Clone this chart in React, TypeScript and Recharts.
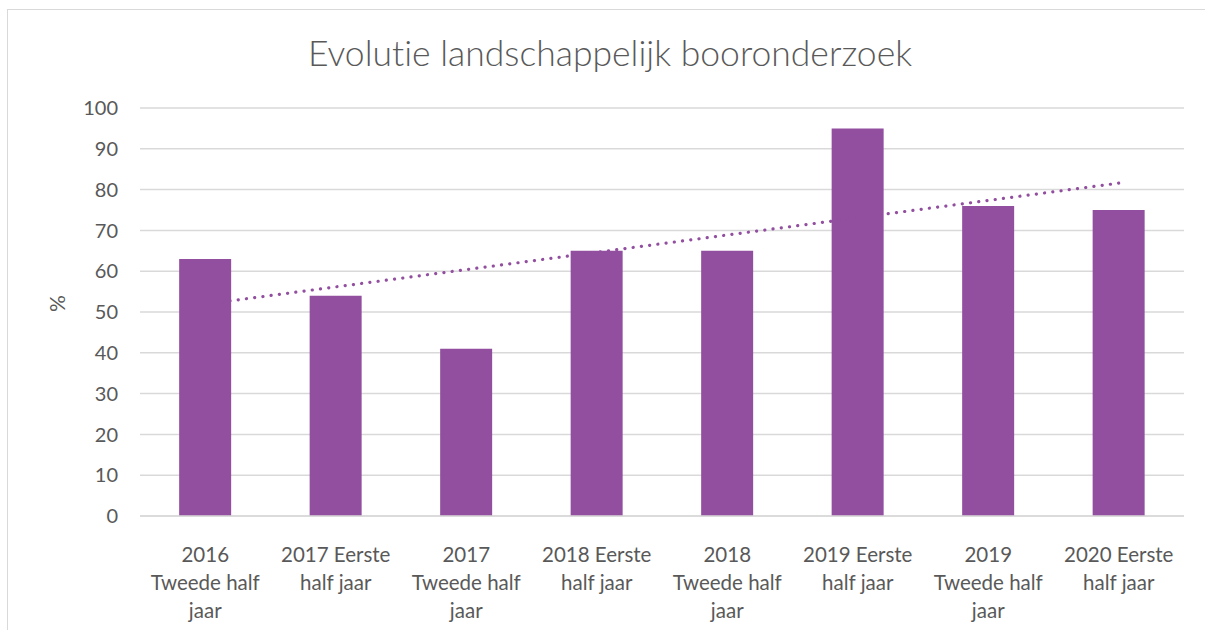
import { ComposedChart, Bar, Line, XAxis, YAxis, CartesianGrid } from "recharts";

const categories = [
  "2016\nTweede half\njaar",
  "2017 Eerste\nhalf jaar",
  "2017\nTweede half\njaar",
  "2018 Eerste\nhalf jaar",
  "2018\nTweede half\njaar",
  "2019 Eerste\nhalf jaar",
  "2019\nTweede half\njaar",
  "2020 Eerste\nhalf jaar",
];
const values = [63, 54, 41, 65, 65, 95, 76, 75];
const yTicks = [0, 10, 20, 30, 40, 50, 60, 70, 80, 90, 100];

const PURPLE = "#924F9F";
const GREY = "#595959";
const FONT = "Lato, 'Open Sans', sans-serif";

// linear trendline (least squares), like Excel's
const n = values.length;
const meanX = (n + 1) / 2;
const meanY = values.reduce((a, b) => a + b, 0) / n;
let sxy = 0;
let sxx = 0;
values.forEach((v, i) => {
  sxy += (i + 1 - meanX) * (v - meanY);
  sxx += (i + 1 - meanX) ** 2;
});
const slope = sxy / sxx;

const data = categories.map((c, i) => ({
  name: c,
  value: values[i],
  trend: meanY + slope * (i + 1 - meanX),
}));

function CategoryTick({ x, y, payload }: any) {
  const lines = String(payload.value).split("\n");
  return (
    <text x={x} y={y} textAnchor="middle" fill={GREY} fontSize={20.5} fontFamily={FONT}>
      {lines.map((l, i) => (
        <tspan key={i} x={x} dy={i === 0 ? 38 : 28}>
          {l}
        </tspan>
      ))}
    </text>
  );
}

export default function App() {
  return (
    <div style={{ position: "absolute", left: 0, top: 0, width: 1205, height: 630, overflow: "hidden", background: "#fff" }}>
      <div
        style={{
          position: "absolute",
          left: 7,
          top: 9,
          width: 1300,
          height: 700,
          border: "1px solid #D9D9D9",
        }}
      />
      <div
        style={{
          position: "absolute",
          left: 0,
          top: 31,
          width: 1220,
          textAlign: "center",
          fontFamily: FONT,
          fontSize: 35.5,
          fontWeight: 300,
          fontVariantLigatures: "none",
          color: GREY,
        }}
      >
        Evolutie landschappelijk booronderzoek
      </div>
      <div style={{ position: "absolute", left: 0, top: 0 }}>
        <ComposedChart
          width={1205}
          height={630}
          data={data}
          margin={{ top: 108, right: 21, bottom: 0, left: 50 }}
          barCategoryGap="30%"
        >
          <CartesianGrid vertical={false} stroke="#D9D9D9" strokeWidth={1.5} />
          <XAxis
            dataKey="name"
            height={114}
            axisLine={{ stroke: "#D9D9D9", strokeWidth: 1.5 }}
            tickLine={false}
            interval={0}
            tick={<CategoryTick />}
          />
          <YAxis
            width={90}
            domain={[0, 100]}
            ticks={yTicks}
            axisLine={false}
            tickLine={false}
            tickSize={0}
            tickMargin={22}
            tick={{ fill: GREY, fontSize: 20, fontFamily: FONT }}
            label={{
              value: "%",
              angle: -90,
              position: "insideLeft",
              offset: 8,
              fill: GREY,
              fontSize: 21,
              fontFamily: FONT,
            }}
          />
          <Line
            dataKey="trend"
            stroke={PURPLE}
            strokeWidth={3.2}
            strokeDasharray="0.1 8.2"
            strokeLinecap="round"
            dot={false}
            activeDot={false}
            isAnimationActive={false}
          />
          <Bar dataKey="value" fill={PURPLE} isAnimationActive={false} />
        </ComposedChart>
      </div>
    </div>
  );
}
